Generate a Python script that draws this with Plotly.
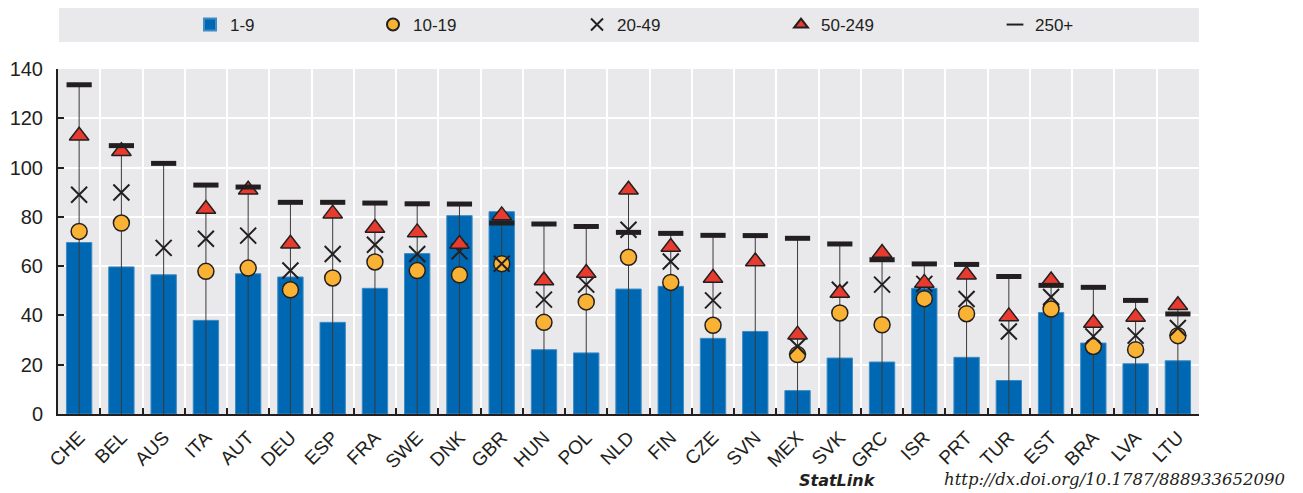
import plotly.graph_objects as go

countries = ["CHE", "BEL", "AUS", "ITA", "AUT", "DEU", "ESP", "FRA", "SWE", "DNK",
             "GBR", "HUN", "POL", "NLD", "FIN", "CZE", "SVN", "MEX", "SVK", "GRC",
             "ISR", "PRT", "TUR", "EST", "BRA", "LVA", "LTU"]

s_1_9 = [69.6, 59.7, 56.5, 38.0, 56.9, 55.6, 37.2, 51.0, 65.1, 80.5,
         82.1, 26.1, 24.8, 50.7, 51.8, 30.7, 33.5, 9.5, 22.7, 21.1,
         51.0, 23.0, 13.6, 41.2, 28.8, 20.4, 21.6]
s_10_19 = [74.1, 77.5, None, 57.9, 59.2, 50.4, 55.2, 61.7, 58.2, 56.5,
           61.0, 37.2, 45.5, 63.6, 53.4, 36.0, None, 24.1, 41.0, 36.2,
           46.8, 40.7, None, 42.6, 27.4, 26.1, 31.8]
s_20_49 = [89.0, 89.9, 67.4, 71.1, 72.4, 58.2, 64.9, 68.7, 64.9, 66.0,
           61.0, 46.4, 52.5, 74.8, 61.9, 46.1, None, 27.4, 50.4, 52.5,
           52.8, 46.7, 33.5, 47.5, 31.5, 31.8, 34.9]
s_50_249 = [112.9, 106.6, None, 83.2, 91.0, 69.1, 81.3, 75.5, 73.7, 69.0,
            80.6, 54.2, 57.2, 91.0, 67.8, 55.2, 61.9, 32.2, 49.1, 65.3,
            53.2, 56.5, 39.6, 54.2, 36.9, 39.4, 44.1]
s_250 = [133.6, 108.9, 101.7, 92.9, 92.1, 85.9, 85.9, 85.6, 85.3, 85.2,
         77.5, 77.1, 76.1, 73.7, 73.3, 72.5, 72.4, 71.3, 69.0, 62.6,
         60.9, 60.7, 55.8, 52.2, 51.4, 46.1, 40.6]

y_ticks = [0, 20, 40, 60, 80, 100, 120, 140]

FONT = "Liberation Sans Narrow, Arial Narrow, Liberation Sans, sans-serif"
DARK = "#231f20"
BG = "#e9e9ec"

# page offset (browser body margin) and figure size
OFF = 8
W, H = 1303 - OFF, 493 - OFF
# plot area in page pixels: x 58..1199, y 69..414
L, T = 58 - OFF, 69 - OFF
R, B = W - (1199 - OFF), H - (414 - OFF)
PW, PH = W - L - R, H - T - B


def px_x(px):
    return (px - OFF - L) / PW


def px_y(py):
    return (H - B - (py - OFF)) / PH


# range lines (0 -> highest value per country)
line_x, line_y = [], []
for i, c in enumerate(countries):
    vals = [v for v in (s_1_9[i], s_10_19[i], s_20_49[i], s_50_249[i], s_250[i]) if v is not None]
    line_x += [c, c, None]
    line_y += [0, max(vals), None]

fig = go.Figure()
fig.add_trace(go.Bar(x=countries, y=s_1_9, name="1-9", legend="legend",
                     marker=dict(color="#0068b2", line=dict(color="#3d8cc6", width=1)), width=0.6))
fig.add_trace(go.Scatter(x=line_x, y=line_y, mode="lines", line=dict(color="#3a3a3a", width=1),
                         showlegend=False, hoverinfo="skip"))
fig.add_trace(go.Scatter(x=countries, y=s_10_19, name="10-19", mode="markers", legend="legend2",
                         marker=dict(symbol="circle", size=16, color="#f9b233",
                                     line=dict(color=DARK, width=1.5))))
fig.add_trace(go.Scatter(x=countries, y=s_20_49, name="20-49", mode="markers", legend="legend3",
                         marker=dict(symbol="x-thin", size=16, color=DARK,
                                     line=dict(color=DARK, width=2))))
fig.add_trace(go.Scatter(x=countries, y=s_50_249, name="50-249", mode="markers", legend="legend4",
                         marker=dict(symbol="triangle-up", size=17, color="#e63b2e",
                                     line=dict(color=DARK, width=1.5))))
fig.add_trace(go.Scatter(x=countries, y=s_250, name="250+", mode="markers", legend="legend5",
                         marker=dict(symbol="line-ew", size=18, color=DARK,
                                     line=dict(color=DARK, width=5))))

leg_common = dict(orientation="h", xanchor="left", y=px_y(25), yanchor="middle",
                  bgcolor="rgba(0,0,0,0)", itemsizing="constant", itemwidth=30,
                  font=dict(family=FONT, size=17, color=DARK))
leg_px = [190, 373, 577, 781, 995]

fig.update_layout(
    width=W, height=H,
    margin=dict(l=L, r=R, t=T, b=B, autoexpand=False),
    paper_bgcolor="white",
    plot_bgcolor=BG,
    font=dict(family=FONT, size=18, color=DARK),
    showlegend=True,
    legend=dict(x=px_x(leg_px[0]), **leg_common),
    legend2=dict(x=px_x(leg_px[1]), **leg_common),
    legend3=dict(x=px_x(leg_px[2]), **leg_common),
    legend4=dict(x=px_x(leg_px[3]), **leg_common),
    legend5=dict(x=px_x(leg_px[4]), **leg_common),
    shapes=[dict(type="rect", xref="paper", yref="paper", x0=px_x(59), x1=px_x(1199),
                 y0=px_y(42), y1=px_y(8), fillcolor=BG, line=dict(width=0), layer="below")],
    annotations=[
        dict(xref="paper", yref="paper", x=px_x(797), y=px_y(480), xanchor="left", yanchor="middle",
             text="<b><i>StatLink</i></b>", showarrow=False,
             font=dict(family="DejaVu Sans", size=16, color=DARK)),
        dict(xref="paper", yref="paper", x=px_x(1287), y=px_y(479), xanchor="right", yanchor="middle",
             text="<i>http://dx.doi.org/10.1787/888933652090</i>", showarrow=False,
             font=dict(family="DejaVu Serif", size=16.5, color=DARK)),
    ],
)

fig.update_xaxes(
    type="category", range=[-0.5, len(countries) - 0.5],
    tickson="boundaries", ticks="inside", ticklen=6, tickwidth=2, tickcolor=DARK,
    showgrid=True, gridcolor="white", gridwidth=2, automargin=False,
    showline=True, linecolor=DARK, linewidth=2, ticklabelstandoff=3,
    tickangle=-45, tickfont=dict(family=FONT, size=19, color=DARK),
)
fig.update_yaxes(
    range=[0, 140], tickvals=y_ticks, showgrid=True, gridcolor="white", gridwidth=2,
    showline=True, linecolor=DARK, linewidth=2, zeroline=False, automargin=False,
    ticks="inside", ticklen=6, tickwidth=2, tickcolor=DARK, ticklabelstandoff=9,
    tickfont=dict(family=FONT, size=20, color=DARK),
)

fig.write_html("out.html")
